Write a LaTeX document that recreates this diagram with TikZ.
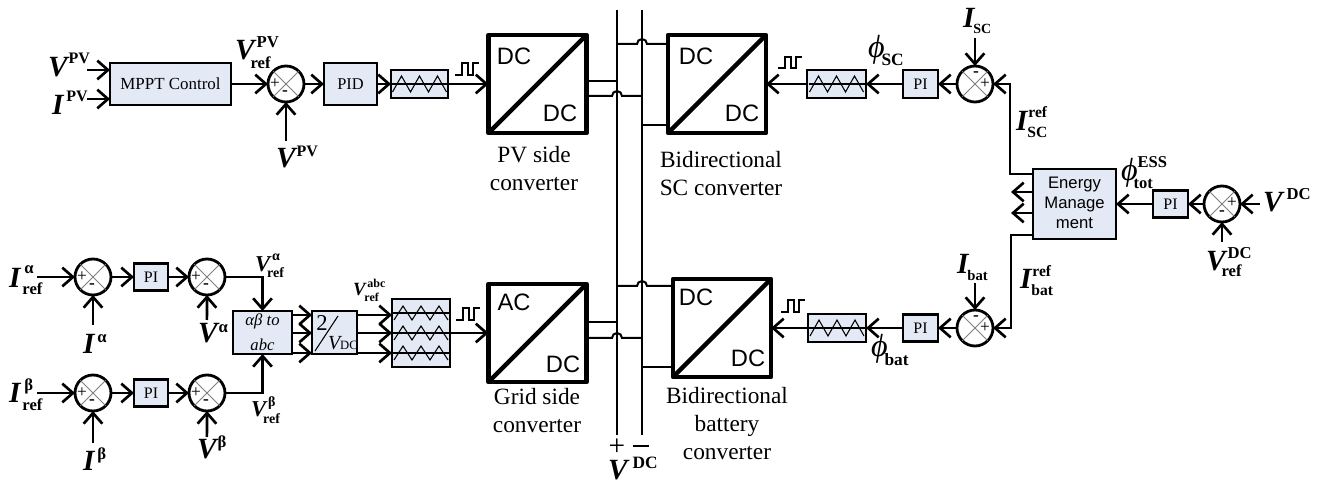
\documentclass[tikz,border=0pt]{standalone}
\usepackage{fontspec}
\setmainfont{Liberation Serif}
\newfontfamily\arialf{Liberation Sans}
\usetikzlibrary{arrows.meta,calc}
\definecolor{boxfill}{HTML}{E4EAF5}
\newdimen\pxu \pxu=0.75pt
\newcommand{\lab}[9]{\mbox{\bfseries\itshape\fontsize{#1}{#1}\selectfont #3\fontsize{#2}{#2}\selectfont\upshape\rlap{\hspace{#5\pxu}\raisebox{#6\pxu}{#4}}\rlap{\hspace{#8\pxu}\raisebox{-#9\pxu}{#7}}}}
\newcommand{\phisym}{{\mdseries ϕ}}
\tikzset{
  wire/.style={line width=2pt},
  arr/.style={wire,-{Straight Barb[length=8pt,width=14pt]}},
  busline/.style={line width=1.5pt},
  blk/.style 2 args={draw,line width=2pt,fill=boxfill,inner sep=0pt,outer sep=0pt,minimum width=#1*0.75pt,minimum height=#2*0.75pt},
  conv/.style={draw,line width=3.4pt,inner sep=0pt,outer sep=0pt,minimum width=98*0.75pt,minimum height=98*0.75pt,line join=round},
  sumc/.style={circle,draw,line width=2.1pt,fill=white,inner sep=0pt,outer sep=0pt,minimum size=36*0.75pt},
  sgn/.style={inner sep=0pt,font=\fontsize{13}{13}\selectfont},
  lbl/.style={anchor=base west,inner sep=0pt,outer sep=0pt},
  captxt/.style={inner sep=0pt,font=\fontsize{17.5}{17.5}\selectfont},
  dcs/.style={inner sep=0pt,font=\arialf\fontsize{17.8}{17.8}\selectfont},
  wavel/.style={line width=0.8pt},
  pulsel/.style={line width=1.1pt},
}
\newcommand{\sumj}[7]{%
  \node[sumc] (#1) at (#2,#3) {};
  \draw[gray,line width=0.6pt] (#1.45)--(#1.225) (#1.135)--(#1.315);
  \node[sgn] (#1p) at ($(#1)+(#4,#5)$) {+};
  \node[sgn] (#1m) at ($(#1)+(#6,#7)$) {\bfseries -};
}
\newcommand{\zig}[3]{%
  \draw[wavel] (#1-28,#2)--(#1+28,#2);
  \draw[wavel] (#1-27,#2+#3)--(#1-18,#2-#3)--(#1-9,#2+#3)--(#1,#2-#3)--(#1+9,#2+#3)--(#1+18,#2-#3)--(#1+27,#2+#3);
}
\newcommand{\pulsew}[3]{%
  \draw[pulsel] (#1,#2)--++(7,0)--++(0,-#3)--++(6,0)--++(0,#3)--++(5,0)--++(0,-#3)--++(6,0);
}
\begin{document}
\begin{tikzpicture}[x=0.75pt,y=-0.75pt]
\useasboundingbox (0,0) rectangle (1318,484);
% --- PV chain
\node[blk={121}{42}] (mppt) at (170.5,84) {\fontsize{12.7}{12.7}\selectfont MPPT Control};
\sumj{s1}{286}{84}{-11}{0}{-1}{9}
\node[blk={53}{42}] (pid) at (350.5,84) {\fontsize{12.3}{12.3}\selectfont PID};
\node[blk={57}{28}] (t1) at (419.5,84) {};
\zig{419.5}{84}{8}
\node[conv] (pv) at (537.5,84) {};
\draw[line width=3.4pt] (pv.south west)--(pv.north east);
\node[dcs] (pvd1) at (514,56) {DC};
\node[dcs] (pvd2) at (560,113) {DC};
\pulsew{455}{75}{12}
\coordinate (vin) at (87,70);
\coordinate (iin) at (87,99);
\coordinate (s1in) at (286,141);
\draw[arr] (vin)--(mppt.west|-vin);
\draw[arr] (iin)--(mppt.west|-iin);
\draw[arr] (mppt.east)--(s1.west);
\draw[arr] (s1in)--(s1.south);
\draw[arr] (s1.east)--(pid.west);
\draw[arr] (pid.east)--(t1.west);
\draw[arr] (t1.east)--(pv.west);
\node[lbl] (l1) at (48,77) {\lab{22}{12}{V}{PV}{1}{13}{}{0}{0}};
\node[lbl] (l2) at (52,115) {\lab{22}{12}{I}{PV}{3}{13}{}{0}{0}};
\node[lbl] (l3) at (235,60) {\lab{22}{12.5}{V}{PV}{2}{12}{ref}{-4}{9}};
\node[lbl] (l4) at (276,168) {\lab{22}{12}{V}{PV}{1}{11}{}{0}{0}};
\node[captxt,align=center] (cpv) at (534,169) {PV side\\[3.5pt]converter};
% --- grid chain
\sumj{s2}{93}{277}{-11}{0}{-1}{9}
\node[blk={34}{27}] (pi1) at (151,277) {\fontsize{12}{12}\selectfont PI};
\sumj{s3}{207}{277}{-11}{0}{-1}{9}
\sumj{s4}{93}{393}{-11}{0}{-1}{9}
\node[blk={34}{27}] (pi2) at (151,393) {\fontsize{12}{12}\selectfont PI};
\sumj{s5}{207}{393}{-11}{0}{-1}{9}
\node[blk={59}{43}] (ab) at (262.5,332.5) {};
\node[inner sep=0pt,align=center,font=\fontsize{12.5}{15}\selectfont\itshape] (abt) at (262.5,332.5) {αβ to\\[4pt]abc};
\node[blk={45}{43}] (vd) at (334.5,332.5) {};
\node[inner sep=0pt,font=\fontsize{17}{17}\selectfont] (vd2) at (322,323) {2};
\draw[line width=0.8pt] (315,351)--(338,316);
\node[lbl] (vdv) at (328,350) {\mbox{\fontsize{15}{15}\selectfont\itshape V\fontsize{9.5}{9.5}\selectfont\upshape DC}};
\node[blk={58}{68}] (t2) at (421,333) {};
\zig{421}{313}{7}
\zig{421}{333}{7}
\zig{421}{353}{7}
\node[conv] (gd) at (537.5,333) {};
\draw[line width=3.4pt] (gd.south west)--(gd.north east);
\node[dcs] (gdd1) at (514,302) {AC};
\node[dcs] (gdd2) at (563,364) {DC};
\pulsew{456}{320}{12}
\coordinate (ia) at (37,277);
\coordinate (ib) at (37,393);
\coordinate (iav) at (93,325);
\coordinate (vav) at (206.9,320);
\coordinate (ibv) at (93,443);
\coordinate (vbv) at (206.9,437);
\draw[arr] (ia)--(s2.west);
\draw[arr] (iav)--(s2.south);
\draw[arr] (s2.east)--(pi1.west);
\draw[arr] (pi1.east)--(s3.west);
\draw[arr] (vav)--(s3.south);
\draw[arr] (s3.east)-|(ab.north);
\draw[arr] (ib)--(s4.west);
\draw[arr] (ibv)--(s4.south);
\draw[arr] (s4.east)--(pi2.west);
\draw[arr] (pi2.east)--(s5.west);
\draw[arr] (vbv)--(s5.south);
\draw[arr] (s5.east)-|(ab.south);
\coordinate (r1) at (0,315);
\coordinate (r2) at (0,333);
\coordinate (r3) at (0,353);
\draw[arr] (ab.east|-r1)--(vd.west|-r1);
\draw[arr] (ab.east|-r2)--(vd.west|-r2);
\draw[arr] (ab.east|-r3)--(vd.west|-r3);
\draw[arr] (vd.east|-r1)--(t2.west|-r1);
\draw[arr] (vd.east|-r2)--(t2.west|-r2);
\draw[arr] (vd.east|-r3)--(t2.west|-r3);
\draw[arr] (t2.east)--(gd.west);
\node[lbl] (l5) at (9,288) {\lab{22}{12.5}{I}{α}{4}{14}{ref}{2}{7}};
\node[lbl] (l6) at (83,354) {\lab{22}{12.5}{I}{α}{3}{11}{}{0}{0}};
\node[lbl] (l7) at (255,272) {\lab{17}{10.5}{V}{α}{2}{11}{ref}{-3}{6}};
\node[lbl] (l8) at (198,343) {\lab{22}{12.5}{V}{α}{1}{10}{}{0}{0}};
\node[lbl] (l9) at (9,403) {\lab{22}{12.5}{I}{β}{4}{12}{ref}{2}{8}};
\node[lbl] (l10) at (83,471) {\lab{22}{12.5}{I}{β}{3}{12}{}{0}{0}};
\node[lbl] (l11) at (251,417) {\lab{17}{10.5}{V}{β}{2}{10}{ref}{-3}{7}};
\node[lbl] (l12) at (197,459) {\lab{22}{12.5}{V}{β}{1}{11}{}{0}{0}};
\node[lbl] (l13) at (353,296) {\lab{14}{9}{V}{abc}{2}{8}{ref}{-1}{6}};
\node[captxt,align=center] (cgd) at (537,411) {Grid side\\[3.5pt]converter};
% --- DC bus
\coordinate (bpt) at (617,10);
\coordinate (bpb) at (617,435);
\coordinate (bnt) at (642,10);
\coordinate (bnb) at (642,435);
\draw[busline] (bpt)--(bpb);
\draw[busline] (bnt)--(bnb);
\node[inner sep=0pt,font=\fontsize{22}{22}\selectfont] (bplus) at (617,447) {+};
\node[inner sep=0pt,font=\fontsize{22}{22}\selectfont] (bminus) at (641,446) {\rule{16\pxu}{0.9pt}};
\node[lbl] (l14) at (608,480) {\lab{22}{13}{V}{DC}{5}{12}{}{0}{0}};
% --- SC chain
\node[conv] (sc) at (717,84) {};
\draw[line width=3.4pt] (sc.south west)--(sc.north east);
\node[dcs] (scd1) at (696,56) {DC};
\node[dcs] (scd2) at (742,113) {DC};
\pulsew{778}{68}{11}
\node[blk={59}{28}] (t3) at (836.5,84) {};
\zig{836.5}{84}{8}
\node[blk={35}{28}] (pi3) at (920.5,84) {\fontsize{12}{12}\selectfont PI};
\sumj{s6}{975}{84}{10}{0}{1}{-10}
\node[blk={83}{70}] (em) at (1074.5,204) {};
\node[inner sep=0pt,align=center,font=\arialf\fontsize{12.5}{15}\selectfont] (emt) at (1074.5,203) {Energy\\Manage\\ment};
\coordinate (isc) at (975,38);
\coordinate (ay1) at (1011,192);
\coordinate (ay2) at (1011,213);
\coordinate (sty) at (1010,174);
\coordinate (bty) at (1011,235);
\draw[arr] (isc)--(s6.north);
\draw[arr] (em.west|-sty)-|($(s6.east)+(17,0)$)--(s6.east);
\draw[arr] (em.west|-ay1)--(ay1);
\draw[arr] (em.west|-ay2)--(ay2);
\draw[arr] (s6.west)--(pi3.east);
\draw[arr] (pi3.west)--(t3.east);
\draw[arr] (t3.west)--(sc.east);
\node[lbl] (l15) at (868,58) {\lab{24}{13}{\phisym}{}{0}{0}{SC}{-3}{8}};
\node[lbl] (l16) at (963,28) {\lab{22}{10.5}{I}{}{0}{0}{SC}{-1}{6}};
\node[lbl] (l17) at (1016,131) {\lab{22}{11.7}{I}{ref}{1}{13}{SC}{0}{7}};
\node[captxt,align=center] (csc) at (721,174) {Bidirectional\\[3.5pt]SC converter};
% --- energy management input
\node[blk={35}{27}] (pi5) at (1170.5,204) {\fontsize{12}{12}\selectfont PI};
\sumj{s8}{1222}{204}{10}{-1}{0}{9}
\coordinate (vdc) at (1260,204);
\coordinate (vdcr) at (1222,242);
\draw[arr] (vdc)--(s8.east);
\draw[arr] (vdcr)--(s8.south);
\draw[arr] (s8.west)--(pi5.east);
\draw[arr] (pi5.west)--(em.east);
\node[lbl] (l18) at (1121,181) {\lab{24}{12.4}{\phisym}{ESS}{0}{13}{tot}{-4}{8}};
\node[lbl] (l19) at (1263,212) {\lab{22}{12.5}{V}{DC}{4}{12}{}{0}{0}};
\node[lbl] (l20) at (1206,271) {\lab{22}{12.5}{V}{DC}{2}{12}{ref}{-4}{6}};
% --- battery chain
\node[conv] (bt) at (722,328) {};
\draw[line width=3.4pt] (bt.south west)--(bt.north east);
\node[dcs] (btd1) at (696,297) {DC};
\node[dcs] (btd2) at (748,358) {DC};
\pulsew{781}{312}{12}
\node[blk={58}{28}] (t4) at (837,328) {};
\zig{837}{328}{8}
\node[blk={35}{27}] (pi4) at (920.5,328) {\fontsize{12}{12}\selectfont PI};
\sumj{s7}{975}{328}{10}{0}{1}{-10}
\coordinate (ibt) at (975,283);
\draw[arr] (ibt)--(s7.north);
\draw[arr] (em.west|-bty)-|($(s7.east)+(18,0)$)--(s7.east);
\draw[arr] (s7.west)--(pi4.east);
\draw[arr] (pi4.west)--(t4.east);
\draw[arr] (t4.west)--(bt.east);
\node[lbl] (l21) at (957,274) {\lab{22}{11}{I}{}{0}{0}{bat}{-1}{7}};
\node[lbl] (l22) at (1020,289) {\lab{22}{11.7}{I}{ref}{1}{12}{bat}{0}{7}};
\node[lbl] (l23) at (871,357) {\lab{24}{13}{\phisym}{}{0}{0}{bat}{-3}{9}};
\node[captxt,align=center] (cbt) at (727,424) {Bidirectional\\[3.5pt]battery\\[3.5pt]converter};
% --- bus stubs
\coordinate (a1) at (0,81);
\coordinate (a2) at (0,96);
\coordinate (a3) at (0,44);
\coordinate (a4) at (0,125);
\coordinate (a5) at (0,322);
\coordinate (a6) at (0,338);
\coordinate (a7) at (0,286);
\coordinate (a8) at (0,367);
\draw[busline] (pv.east|-a1)--(bpt|-a1);
\draw[busline] (pv.east|-a2)--($(bpt|-a2)+(-5,0)$) arc[start angle=180,end angle=360,radius=5]--(bnt|-a2);
\draw[busline] (bpt|-a3)--($(bnt|-a3)+(-5,0)$) arc[start angle=180,end angle=360,radius=5]--(sc.west|-a3);
\draw[busline] (bnt|-a4)--(sc.west|-a4);
\draw[busline] (gd.east|-a5)--(bpt|-a5);
\draw[busline] (gd.east|-a6)--($(bpt|-a6)+(-5,0)$) arc[start angle=180,end angle=360,radius=5]--(bnt|-a6);
\draw[busline] (bpt|-a7)--($(bnt|-a7)+(-5,0)$) arc[start angle=180,end angle=360,radius=5]--(bt.west|-a7);
\draw[busline] (bnt|-a8)--(bt.west|-a8);
\end{tikzpicture}
\end{document}
